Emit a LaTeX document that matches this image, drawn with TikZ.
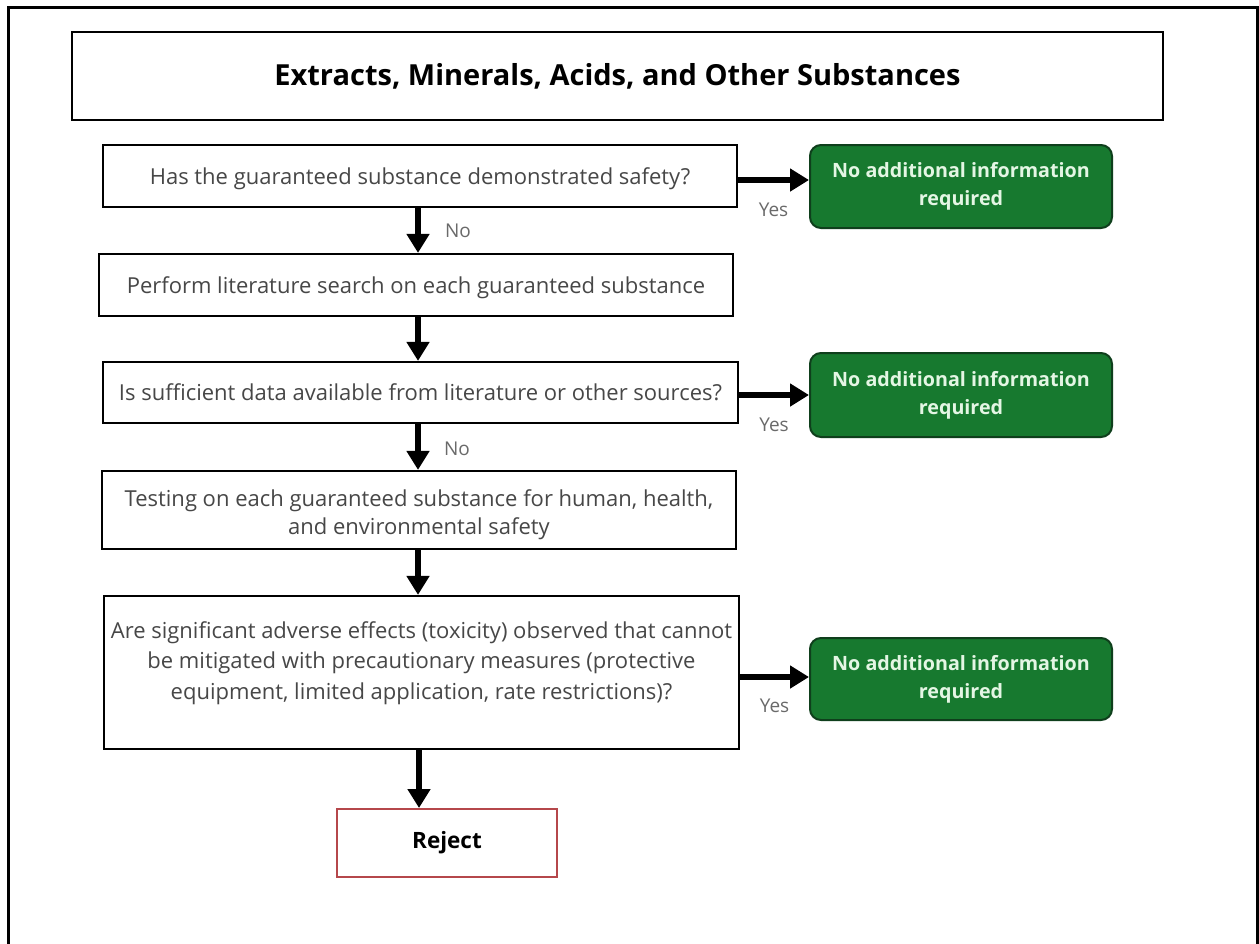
\documentclass[tikz,border=0pt]{standalone}
\usepackage{fontspec}
\setmainfont{Open Sans}
\usetikzlibrary{arrows.meta}
\definecolor{txtgray}{HTML}{474747}
\definecolor{lblgray}{HTML}{6A6A6A}
\definecolor{okgreen}{HTML}{17792F}
\definecolor{okborder}{HTML}{0F3F1C}
\definecolor{oktext}{HTML}{E4F6E4}
\definecolor{rejred}{HTML}{B5474B}
\tikzset{
  stepbox/.style={draw=black, line width=2.2pt, fill=white, inner sep=0pt},
  bodytxt/.style={text=txtgray, align=center, font=\fontsize{22}{30}\selectfont},
  oneline/.style={text height=16pt, text depth=0pt},
  greenbox/.style={draw=okborder, line width=2pt, fill=okgreen, rounded corners=11pt,
    minimum width=302pt, minimum height=83pt, text=oktext, align=center,
    font=\bfseries\fontsize{19.7}{28}\selectfont},
  arr/.style={draw=black, line width=6pt, -{Triangle[width=22pt,length=19pt]}},
  lbl/.style={text=lblgray, font=\fontsize{19}{22}\selectfont, inner sep=0pt}
}
\begin{document}
\begin{tikzpicture}[x=1pt,y=-1pt]
\useasboundingbox (0,0) rectangle (1259,943);
\clip (0,0) rectangle (1259,943);
\fill[white] (0,0) rectangle (1259,943);
% outer frame
\draw[line width=3pt, black] (8,7) rectangle (1257,980);
% title
\node[draw=black, line width=2pt, minimum width=1091pt, minimum height=88pt, inner sep=0pt,
  font=\bfseries\fontsize{29}{34}\selectfont, text=black] (title) at (617.5,76)
  {Extracts, Minerals, Acids, and Other Substances};
% steps
\node[stepbox, minimum width=634pt, minimum height=62pt, bodytxt, oneline] (b1) at (420,176)
  {Has the guaranteed substance demonstrated safety?};
\node[stepbox, minimum width=634pt, minimum height=62pt, bodytxt, oneline] (b2) at (416,285)
  {Perform literature search on each guaranteed substance};
\node[stepbox, minimum width=635pt, minimum height=61pt, bodytxt, oneline] (b3) at (420.5,392.5)
  {Is sufficient data available from literature or other sources?};
\node[stepbox, minimum width=634pt, minimum height=78pt] (b4) at (419,510) {};
\node[bodytxt, font=\fontsize{22}{28}\selectfont] (t4) at (419,515)
  {Testing on each guaranteed substance for human, health,\\and environmental safety};
\node[stepbox, minimum width=635pt, minimum height=153pt] (b5) at (421.5,672.5) {};
\node[bodytxt, font=\fontsize{22}{30.3}\selectfont] (t5) at (421.5,663)
  {Are significant adverse effects (toxicity) observed that cannot\\be mitigated with precautionary measures (protective\\equipment, limited application, rate restrictions)?};
\node[draw=rejred, line width=2pt, minimum width=220pt, minimum height=68pt, inner sep=0pt,
  font=\bfseries\fontsize{22.5}{26}\selectfont, text=black] (rej) at (447,843) {Reject};
% green outcomes
\node[greenbox] (g1) at (961,186.5) {No additional information\\required};
\node[greenbox, minimum height=84pt] (g2) at (961,395) {No additional information\\required};
\node[greenbox, minimum height=82pt] (g3) at (961,679) {No additional information\\required};
% vertical arrows
\draw[arr] (418,0 |- b1.south) -- node[lbl, xshift=40pt]{No} (418,0 |- b2.north);
\draw[arr] (418,0 |- b2.south) -- (418,0 |- b3.north);
\draw[arr] (418,0 |- b3.south) -- node[lbl, xshift=39pt, yshift=-2pt]{No} (418,0 |- b4.north);
\draw[arr] (418,0 |- b4.south) -- (418,0 |- b5.north);
\draw[arr] (419,0 |- b5.south) -- (419,0 |- rej.north);
% horizontal arrows
\draw[arr] (b1.east |- 0,180) -- node[lbl, yshift=-30pt]{Yes} (g1.west |- 0,180);
\draw[arr] (b3.east |- 0,395) -- node[lbl, yshift=-30pt]{Yes} (g2.west |- 0,395);
\draw[arr] (b5.east |- 0,677) -- node[lbl, yshift=-29pt]{Yes} (g3.west |- 0,677);
\end{tikzpicture}
\end{document}
